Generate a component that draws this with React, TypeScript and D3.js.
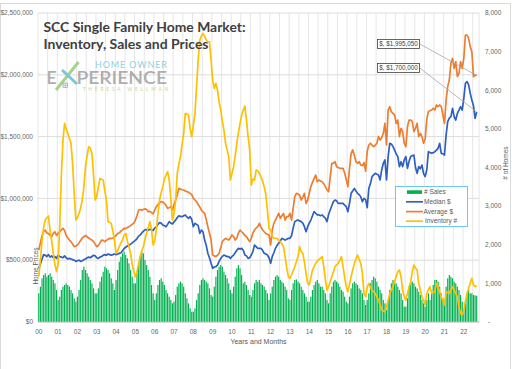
import React from 'react';
import * as d3 from 'd3';

const W = 512;
const H = 369;

// x-axis year labels (one per January)
const yearLabels = ['00','01','02','03','04','05','06','07','08','09','10','11','12','13','14','15','16','17','18','19','20','21','22'];

// Monthly # of sales (Jan 2000 .. Sep 2022)
const sales = [
  742, 915, 1130, 1217, 1260, 1173, 1217, 1260, 1173, 1087, 1001, 828,
  569, 656, 828, 915, 958, 1001, 958, 915, 828, 742, 613, 526,
  656, 828, 1087, 1346, 1432, 1346, 1260, 1173, 1087, 1001, 871, 742,
  742, 871, 1044, 1173, 1303, 1432, 1389, 1346, 1260, 1130, 1001, 828,
  1087, 1346, 1562, 1691, 1777, 1820, 1734, 1648, 1519, 1346, 1173, 1001,
  1001, 1260, 1519, 1691, 1820, 1777, 1605, 1475, 1346, 1173, 958, 742,
  569, 742, 958, 1087, 1130, 1044, 958, 828, 742, 656, 569, 483,
  526, 699, 915, 1001, 1044, 1001, 915, 742, 613, 483, 354, 267,
  267, 354, 569, 742, 958, 1087, 1130, 1087, 1044, 1001, 871, 699,
  656, 915, 1173, 1346, 1432, 1475, 1432, 1303, 1217, 1130, 1001, 828,
  742, 915, 1173, 1389, 1475, 1389, 1217, 1001, 1044, 958, 828, 699,
  656, 828, 1001, 1087, 1044, 1087, 1001, 958, 915, 828, 742, 569,
  742, 915, 1087, 1173, 1217, 1173, 1087, 1044, 1001, 915, 828, 613,
  569, 828, 1001, 1087, 1104, 1044, 1001, 915, 828, 742, 656, 526,
  526, 656, 828, 958, 1044, 1087, 1001, 915, 915, 828, 742, 569,
  483, 742, 915, 1044, 1087, 1044, 1001, 915, 828, 785, 656, 526,
  483, 656, 871, 1001, 1044, 1001, 958, 871, 828, 742, 569, 440,
  569, 742, 1001, 1087, 1173, 1130, 1044, 915, 828, 742, 569, 483,
  311, 569, 828, 1001, 1087, 1044, 1001, 915, 828, 742, 569, 397,
  397, 613, 915, 1044, 1044, 1001, 915, 871, 785, 699, 569, 483,
  397, 569, 742, 569, 742, 958, 1087, 1087, 1044, 915, 742, 613,
  569, 915, 1130, 1217, 1173, 1130, 1044, 1001, 915, 828, 699, 526,
  311, 483, 742, 828, 742, 742, 700, 690, 680,
];

// Monthly median price, $ thousands
const medianK = [
  434, 470, 510, 545, 540, 530, 545, 525, 535, 520, 530, 515,
  540, 530, 525, 520, 535, 520, 510, 515, 510, 505, 500, 490,
  495, 500, 490, 495, 505, 510, 520, 525, 520, 530, 540, 535,
  520, 515, 525, 530, 540, 545, 540, 550, 545, 540, 545, 550,
  545, 550, 555, 560, 575, 595, 605, 615, 620, 630, 640, 650,
  660, 675, 695, 705, 720, 735, 745, 748, 742, 750, 745, 740,
  760, 770, 790, 805, 800, 785, 780, 770, 790, 812, 800, 793,
  810, 825, 845, 858, 855, 852, 860, 866, 850, 839, 852, 830,
  771, 798, 790, 780, 717, 744, 730, 663, 620, 556, 520, 475,
  434, 445, 448, 460, 490, 515, 530, 542, 535, 529, 529, 515,
  530, 542, 560, 580, 596, 590, 596, 580, 542, 535, 515, 520,
  542, 570, 623, 610, 596, 596, 596, 580, 556, 550, 542, 520,
  475, 529, 560, 596, 620, 637, 655, 677, 670, 663, 670, 677,
  677, 700, 760, 812, 820, 825, 818, 812, 800, 771, 731, 771,
  800, 825, 860, 893, 880, 866, 866, 860, 866, 852, 840, 812,
  870, 906, 940, 974, 987, 980, 960, 960, 960, 960, 945, 933,
  893, 960, 1041, 1060, 1081, 1060, 1041, 1030, 1014, 974, 1000, 990,
  925, 1080, 1120, 1176, 1190, 1203, 1195, 1189, 1149, 1230, 1284, 1311,
  1149, 1338, 1446, 1440, 1419, 1392, 1360, 1338, 1257, 1297, 1257, 1311,
  1338, 1243, 1300, 1338, 1345, 1351, 1250, 1203, 1257, 1240, 1270, 1200,
  1176, 1230, 1378, 1372, 1365, 1370, 1378, 1390, 1405, 1446, 1365, 1360,
  1351, 1513, 1621, 1650, 1661, 1729, 1661, 1634, 1688, 1715, 1742, 1715,
  1810, 1931, 1945, 1918, 1850, 1796, 1750, 1648, 1700,
];

// Monthly average price, $ thousands
const averageK = [
  582, 640, 700, 730, 744, 720, 717, 700, 690, 717, 730, 700,
  717, 730, 745, 758, 740, 700, 680, 663, 650, 630, 609, 615,
  623, 640, 660, 680, 690, 700, 690, 680, 670, 663, 650, 630,
  609, 620, 640, 663, 660, 650, 660, 670, 677, 675, 680, 690,
  700, 717, 720, 735, 745, 758, 755, 765, 771, 780, 790, 800,
  825, 860, 906, 910, 905, 912, 915, 910, 893, 895, 885, 875,
  905, 933, 950, 965, 974, 970, 960, 945, 920, 925, 933, 906,
  950, 987, 1030, 1081, 1075, 1070, 1068, 1060, 1055, 1050, 1041, 1030,
  1000, 987, 974, 950, 930, 906, 890, 879, 830, 771, 720, 663,
  542, 535, 529, 540, 556, 600, 650, 665, 677, 670, 663, 680,
  704, 690, 663, 680, 720, 744, 730, 717, 700, 690, 670, 650,
  677, 720, 744, 760, 771, 798, 770, 744, 730, 717, 710, 704,
  623, 744, 798, 825, 850, 879, 839, 860, 879, 825, 852, 852,
  879, 825, 920, 1014, 1041, 1035, 1028, 987, 1010, 1041, 960, 987,
  1040, 1095, 1130, 1162, 1189, 1135, 1149, 1140, 1135, 1120, 1095, 1068,
  1055, 1170, 1284, 1284, 1297, 1257, 1250, 1243, 1243, 1243, 1203, 1150,
  1095, 1243, 1365, 1392, 1351, 1297, 1284, 1297, 1270, 1265, 1290, 1220,
  1380, 1432, 1446, 1430, 1419, 1430, 1446, 1500, 1473, 1490, 1527, 1607,
  1432, 1715, 1742, 1702, 1688, 1675, 1607, 1634, 1500, 1567, 1540, 1446,
  1419, 1580, 1634, 1634, 1621, 1540, 1567, 1607, 1500, 1527, 1500, 1446,
  1480, 1640, 1702, 1710, 1715, 1729, 1715, 1756, 1742, 1756, 1742, 1675,
  1607, 1796, 1904, 1958, 2093, 2133, 2052, 2106, 1985, 2012, 2106, 2052,
  2133, 2322, 2322, 2295, 2228, 2187, 1985, 1998, 1995.05,
];

// Monthly inventory (# of homes)
const inventory = [
  1173, 1600, 2100, 2450, 2640, 2700, 2744, 2381, 2100, 1777, 1500, 1303,
  1500, 2500, 3800, 4700, 5142, 5000, 4884, 4750, 4625, 4100, 3330, 2640,
  2700, 2813, 2950, 3158, 3500, 4021, 4300, 4538, 4500, 4366, 3800, 3158,
  3244, 3500, 3719, 3690, 3676, 3400, 3158, 2597, 2580, 2554, 2350, 2123,
  1777, 1850, 1950, 2050, 2123, 2250, 2295, 2100, 1950, 1777, 1500, 1300,
  1173, 1300, 1518, 1700, 1850, 1950, 2150, 2295, 2450, 2597, 2400, 1993,
  2100, 2381, 2800, 3158, 3350, 3503, 3700, 3800, 3891, 3676, 3200, 2640,
  2813, 3158, 3848, 4100, 4280, 4600, 4884, 5401, 5380, 5358, 5000, 4797,
  5100, 5401, 6091, 6782, 7299, 7400, 7472, 7400, 7300, 7256, 7256, 6782,
  6264, 6048, 6178, 6005, 5700, 5487, 5200, 4970, 4625, 4450, 4280, 3676,
  3850, 4021, 4300, 4625, 4900, 5142, 5350, 5487, 5591, 5229, 4800, 4452,
  3546, 3700, 3676, 3934, 3917, 3850, 3762, 3650, 3503, 3300, 2899, 2424,
  2381, 2209, 2166, 2166, 2166, 2120, 2079, 2020, 1950, 1700, 1400, 1173,
  1130, 1217, 1320, 1432, 1560, 1691, 1950, 1820, 1777, 1550, 1260, 1001,
  958, 1150, 1346, 1430, 1519, 1580, 1620, 1648, 1691, 1432, 1100, 828,
  915, 1050, 1173, 1300, 1432, 1480, 1519, 1600, 1691, 1432, 1150, 915,
  785, 980, 1173, 1350, 1519, 1630, 1734, 1620, 1519, 1260, 742, 656,
  900, 1001, 900, 828, 780, 742, 650, 569, 450, 311, 280, 267,
  397, 560, 742, 830, 915, 1050, 1173, 1303, 1346, 1173, 828, 656,
  569, 742, 900, 1044, 1300, 1475, 1400, 1346, 1000, 828, 650, 569,
  440, 742, 830, 915, 742, 760, 785, 1001, 915, 780, 656, 550,
  440, 785, 760, 742, 830, 915, 828, 740, 656, 397, 224, 181,
  300, 550, 742, 870, 1001, 1130, 958, 915, 930,
];

const priceTicksK = [0, 500, 1000, 1500, 2000, 2500];
const homeTicks = [0, 1000, 2000, 3000, 4000, 5000, 6000, 7000, 8000];
const seriesNames = ['# Sales', 'Median $', 'Average $', 'Inventory #'];
const calloutAverage = '$, $1,995,050';
const calloutMedian = '$, $1,700,000';

const C_SALES = '#00b050';
const C_MED = '#2e5fc1';
const C_AVG = '#ed7d31';
const C_INV = '#ffc000';
const FONT = "'Liberation Sans', Arial, sans-serif";

export default function App() {
  const nBands = 274;
  const x = d3.scaleBand<number>().domain(d3.range(nBands)).range([38, 479.1]).paddingInner(0).paddingOuter(0);
  const bw = x.bandwidth();
  const cx = (i: number) => (x(i) as number) + bw / 2;
  const yL = d3.scaleLinear().domain([0, 2500]).range([322, 13]);
  const yR = d3.scaleLinear().domain([0, 8000]).range([322, 13]);

  const lineL = d3.line<number>().x((_, i) => cx(i)).y((d) => yL(d));
  const lineR = d3.line<number>().x((_, i) => cx(i)).y((d) => yR(d));

  const fmtPrice = d3.format('$,');
  const fmtHomes = (v: number) => (v === 0 ? '-' : d3.format(',')(v));

  const vGrid = d3.range(0, nBands, 6).map((i) => x(i) as number);
  vGrid.push(479.1);

  const last = medianK.length - 1;
  const endX = cx(last);

  const legendRows = [
    { name: seriesNames[0], y: 192 },
    { name: seriesNames[1], y: 201.8 },
    { name: seriesNames[2], y: 211.6 },
    { name: seriesNames[3], y: 221.2 },
  ];

  return (
    <svg width={W} height={H} style={{ position: 'absolute', left: 0, top: 0, background: '#fff' }} fontFamily={FONT}>
      <rect x={0.5} y={3.5} width={510} height={400} fill="#fff" stroke="#d9d9d9" strokeWidth={1} />

      {/* gridlines */}
      <g>
        {vGrid.map((gx, k) => (
          <line key={'v' + k} x1={gx} x2={gx} y1={13} y2={322} stroke="#e0e0e0" strokeWidth={0.8} />
        ))}
        {priceTicksK.map((t) => (
          <line key={'h' + t} x1={38} x2={479.1} y1={yL(t)} y2={yL(t)} stroke="#d9d9d9" strokeWidth={0.9} />
        ))}
      </g>

      {/* sales bars */}
      <g>
        {sales.map((v, i) => (
          <rect key={i} x={cx(i) - bw * 0.36} width={bw * 0.72} y={yR(v)} height={yR(0) - yR(v)} fill={C_SALES} />
        ))}
      </g>
      <line x1={38} x2={479.1} y1={322} y2={322} stroke="#bfbfbf" strokeWidth={0.9} />

      {/* lines */}
      <path d={lineL(medianK) || ''} fill="none" stroke={C_MED} strokeWidth={1.7} strokeLinejoin="round" />
      <path d={lineL(averageK) || ''} fill="none" stroke={C_AVG} strokeWidth={1.7} strokeLinejoin="round" />
      <path d={lineR(inventory) || ''} fill="none" stroke={C_INV} strokeWidth={1.7} strokeLinejoin="round" />

      {/* left axis labels */}
      <g fontSize={6.5} fill="#666">
        {priceTicksK.map((t) => (
          <text key={t} x={33} y={yL(t)} dy="0.35em" textAnchor="end">{fmtPrice(t * 1000)}</text>
        ))}
      </g>
      {/* right axis labels */}
      <g fontSize={6.5} fill="#666">
        {homeTicks.map((t) => (
          <text key={t} x={t === 0 ? 488 : 485} y={yR(t)} dy="0.35em" textAnchor="start">{fmtHomes(t)}</text>
        ))}
      </g>
      {/* x labels */}
      <g fontSize={6.5} fill="#666">
        {yearLabels.map((lab, k) => (
          <text key={lab} x={cx(k * 12)} y={332} dy="0.35em" textAnchor="middle">{lab}</text>
        ))}
      </g>

      {/* axis titles */}
      <text transform="translate(37.5,266) rotate(-90)" textAnchor="middle" fontSize={6.5} fill="#595959">Home Prices</text>
      <text transform="translate(508,163) rotate(-90)" textAnchor="middle" fontSize={6.5} fill="#595959"># of Homes</text>
      <text x={258.5} y={342} dy="0.35em" textAnchor="middle" fontSize={7} fill="#595959">Years and Months</text>

      {/* title */}
      <g fontFamily="Lato, 'Open Sans', sans-serif" fontWeight={700} fill="#404040" fontSize={14}>
        <text x={43.5} y={32} textLength={202} lengthAdjust="spacingAndGlyphs">SCC Single Family Home Market:</text>
        <text x={43.5} y={49} textLength={165} lengthAdjust="spacingAndGlyphs">Inventory, Sales and Prices</text>
      </g>

      {/* logo */}
      <g fontFamily="Lato, 'Open Sans', sans-serif">
        <text x={95} y={68.3} fontSize={9} fill="#8fd0dc" textLength={72} lengthAdjust="spacing">HOME OWNER</text>
        <text x={46.5} y={83.5} fontSize={17.5} fontWeight={600} fill="#a6a6a6" opacity={0.9}>E</text>
        <line x1={56} y1={90} x2={78.5} y2={62} stroke="#a9d18e" strokeWidth={3} />
        <line x1={62} y1={70} x2={77} y2={84} stroke="#7cc6d6" strokeWidth={3} />
        <rect x={63} y={83} width={4.5} height={4.5} fill="none" stroke="#8aa" strokeWidth={0.7} />
        <line x1={65.25} y1={83} x2={65.25} y2={87.5} stroke="#8aa" strokeWidth={0.6} />
        <line x1={63} y1={85.25} x2={67.5} y2={85.25} stroke="#8aa" strokeWidth={0.6} />
        <text x={76.5} y={83.5} fontSize={17.5} fontWeight={600} fill="#a6a6a6" opacity={0.9} textLength={90.5} lengthAdjust="spacingAndGlyphs">PERIENCE</text>
        <text x={82.7} y={90.8} fontSize={4.8} fill="#c2d59a" textLength={85.5} lengthAdjust="spacing">THERESA WELLMAN</text>
      </g>

      {/* callouts */}
      <line x1={419.5} y1={43.8} x2={endX} y2={yL(averageK[last])} stroke="#a6a6a6" strokeWidth={0.8} />
      <line x1={419.5} y1={67.8} x2={endX} y2={yL(medianK[last])} stroke="#a6a6a6" strokeWidth={0.8} />
      <g fontSize={6.3} fill="#404040">
        <rect x={377.5} y={39.5} width={42} height={9} fill="#fff" stroke="#404040" strokeWidth={0.8} />
        <text x={379.3} y={44} dy="0.35em">{calloutAverage}</text>
        <rect x={377.5} y={63.5} width={42} height={9} fill="#fff" stroke="#404040" strokeWidth={0.8} />
        <text x={379.3} y={68} dy="0.35em">{calloutMedian}</text>
      </g>

      {/* legend */}
      <g fontSize={6.5} fill="#595959">
        <rect x={395.5} y={186.5} width={72} height={40} fill="#fff" stroke="#5fc3ee" strokeWidth={0.9} />
        <rect x={407} y={190.3} width={15} height={3.6} fill={C_SALES} />
        <line x1={406} x2={423} y1={legendRows[1].y} y2={legendRows[1].y} stroke={C_MED} strokeWidth={1.7} />
        <line x1={406} x2={423} y1={legendRows[2].y} y2={legendRows[2].y} stroke={C_AVG} strokeWidth={1.7} />
        <line x1={406} x2={423} y1={legendRows[3].y} y2={legendRows[3].y} stroke={C_INV} strokeWidth={1.7} />
        <text x={424} y={legendRows[0].y} dy="0.35em">{legendRows[0].name}</text>
        <text x={424} y={legendRows[1].y} dy="0.35em">{legendRows[1].name}</text>
        <text x={423.5} y={legendRows[2].y} dy="0.35em">{legendRows[2].name}</text>
        <text x={425} y={legendRows[3].y} dy="0.35em">{legendRows[3].name}</text>
      </g>
    </svg>
  );
}
